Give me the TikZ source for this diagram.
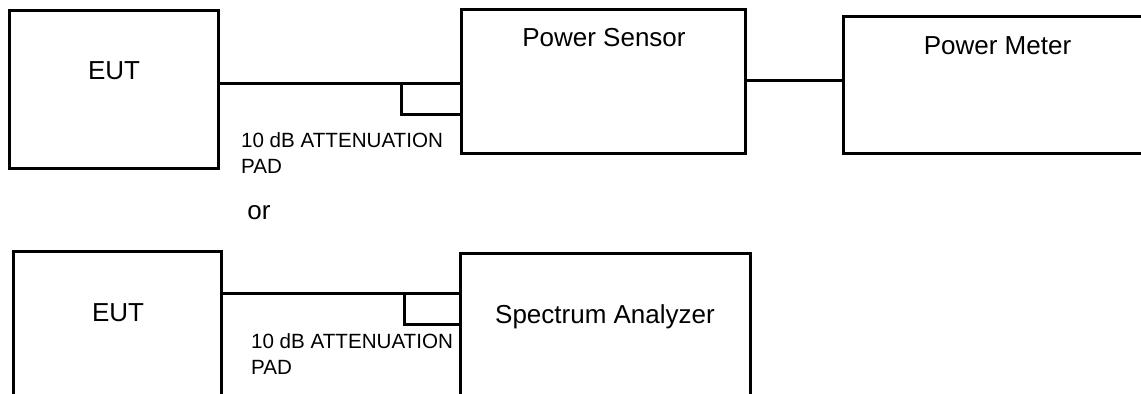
\documentclass[tikz,border=0pt]{standalone}
\usepackage{fontspec}
\setmainfont{Liberation Sans}
\begin{document}
\begin{tikzpicture}[x=0.5pt,y=-0.5pt,
  box/.style={draw,line width=1.5pt,inner sep=0pt,outer sep=0pt},
  wire/.style={line width=1.5pt},
  lbl/.style={font=\fontsize{13}{15.6}\selectfont,inner sep=0pt},
  padlbl/.style={font=\fontsize{10.3}{12.85}\selectfont,inner sep=0pt,align=left,anchor=north west}]
  \useasboundingbox (0,0) rectangle (1141,394);
  \clip (0,0) rectangle (1141,394);
  % Top: power sensor and power meter
  \node[box,minimum width=104.5pt,minimum height=78.8pt] (eutA) at (113.8,89.5) {};
  \node[box,minimum width=142pt,minimum height=72pt] (sensor) at (603.7,81.3) {};
  \node[box,minimum width=153.5pt,minimum height=68.7pt] (meter) at (996.5,85.3) {};
  \node[box,minimum width=30pt,minimum height=15.8pt,anchor=north east] (padA) at (sensor.west |- 0,83.3) {};
  \coordinate (link) at (795,80.7);
  \draw[wire] (eutA.east |- padA.north) -- (padA.north west);
  \draw[wire] (sensor.east |- link) -- (meter.west |- link);
  \node[lbl,anchor=base] (eutAtxt) at (114,80) {EUT};
  \node[lbl,anchor=base] (sensortxt) at (604,47) {Power Sensor};
  \node[lbl,anchor=base] (metertxt) at (997.5,55) {Power Meter};
  \node[padlbl] (padAtxt) at (240.7,132) {10 dB ATTENUATION\\PAD};
  \node[lbl,anchor=base west] (or) at (247,220) {or};
  % Bottom: spectrum analyzer
  \node[box,minimum width=104.2pt,minimum height=78.8pt] (eutB) at (117.5,330.5) {};
  \node[box,minimum width=145pt,minimum height=75pt] (analyzer) at (605,328.3) {};
  \node[box,minimum width=28pt,minimum height=15.8pt,anchor=north east] (padB) at (analyzer.west |- 0,293.3) {};
  \draw[wire] (eutB.east |- padB.north) -- (padB.north west);
  \node[lbl,anchor=base] (eutBtxt) at (118,321.7) {EUT};
  \node[lbl,anchor=base] (analyzertxt) at (605,323.3) {Spectrum Analyzer};
  \node[padlbl] (padBtxt) at (250.7,333.3) {10 dB ATTENUATION\\PAD};
\end{tikzpicture}
\end{document}
